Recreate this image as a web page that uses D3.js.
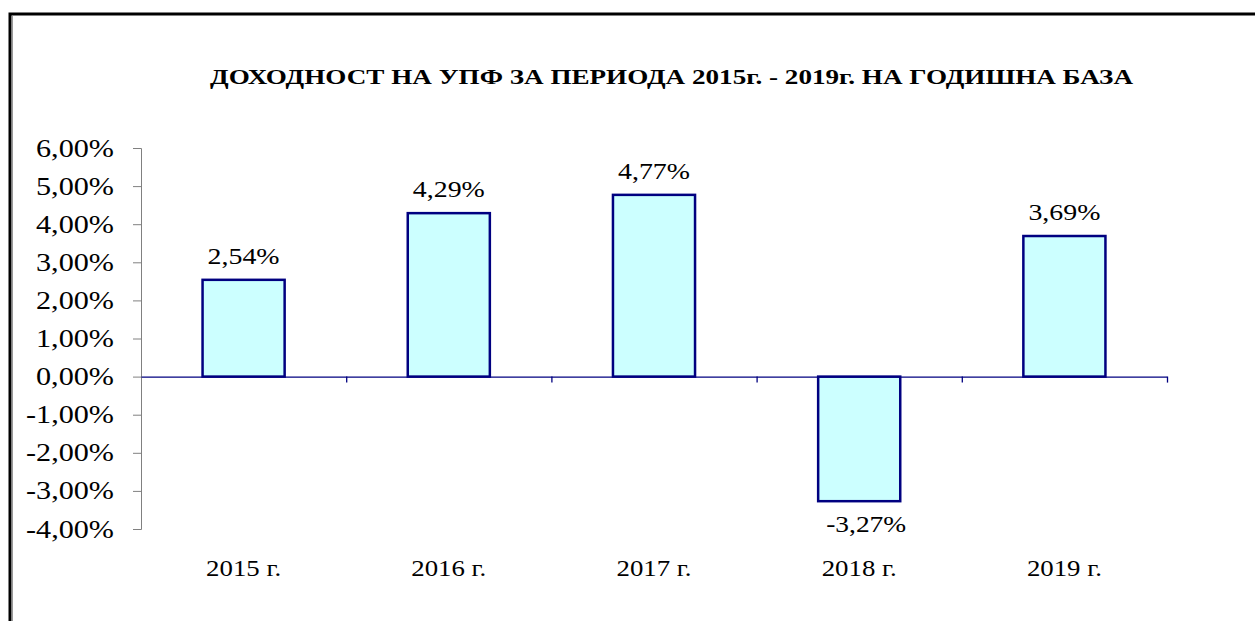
<!DOCTYPE html>
<html>
<head>
<meta charset="utf-8">
<script src="https://cdn.jsdelivr.net/npm/d3@7"></script>
<style>
  html, body { margin: 0; padding: 0; background: #fff; }
  svg text { font-family: "Liberation Serif", "Times New Roman", serif; fill: #000; }
</style>
</head>
<body>
<div id="chart"></div>
<script>
// data
var years = ["2015 г.", "2016 г.", "2017 г.", "2018 г.", "2019 г."];
var returns = [2.54, 4.29, 4.77, -3.27, 3.69];
var yTicks = [6, 5, 4, 3, 2, 1, 0, -1, -2, -3, -4];
var title = "ДОХОДНОСТ НА УПФ ЗА ПЕРИОДА 2015г. - 2019г. НА ГОДИШНА БАЗА";

var width = 1255, height = 621;
var plotLeft = 141, plotRight = 1167, plotTop = 148, plotBottom = 529;
var serif = '"Liberation Serif", "Times New Roman", serif';

var svg = d3.select("#chart").append("svg")
    .attr("width", width)
    .attr("height", height);

// outer frame
svg.append("rect")
    .attr("x", 10).attr("y", 14)
    .attr("width", 1260).attr("height", 640)
    .attr("fill", "none")
    .attr("stroke", "#000")
    .attr("stroke-width", 3);
svg.append("line")
    .attr("x1", 12.5).attr("x2", 12.5).attr("y1", 16).attr("y2", height)
    .attr("stroke", "#999").attr("stroke-width", 1);

svg.append("text")
    .attr("x", 210).attr("y", 84)
    .style("font-family", serif)
    .attr("font-size", 22)
    .attr("font-weight", "bold")
    .attr("textLength", 923)
    .attr("lengthAdjust", "spacingAndGlyphs")
    .text(title);

var x = d3.scaleBand()
    .domain(years)
    .range([plotLeft, plotRight])
    .paddingInner(0.6)
    .paddingOuter(0.3);

var y = d3.scaleLinear()
    .domain([-4, 6])
    .range([plotBottom, plotTop]);

function pct(v) {
    return v.toFixed(2).replace(".", ",") + "%";
}

// y axis
var yAxis = svg.append("g")
    .attr("transform", "translate(" + plotLeft + ",0)")
    .call(d3.axisLeft(y).tickValues(yTicks).tickSize(8).tickPadding(19).tickFormat(pct));
yAxis.select(".domain").attr("stroke", "#808080");
yAxis.selectAll("line").attr("stroke", "#808080");
yAxis.selectAll("text")
    .style("font-family", serif)
    .attr("font-size", 25)
    .attr("textLength", function(d) { return d < 0 ? 88 : 78; })
    .attr("lengthAdjust", "spacingAndGlyphs");

// bars
svg.selectAll(".bar")
    .data(returns)
    .enter().append("rect")
    .attr("class", "bar")
    .attr("x", function(d, i) { return x(years[i]); })
    .attr("width", x.bandwidth())
    .attr("y", function(d) { return y(Math.max(0, d)); })
    .attr("height", function(d) { return Math.abs(y(d) - y(0)); })
    .attr("fill", "#CCFFFF")
    .attr("stroke", "#000080")
    .attr("stroke-width", 2.5);

// zero line with category separators
var sep = d3.scaleLinear().domain([0, years.length]).range([plotLeft, plotRight]);
var zeroAxis = svg.append("g")
    .attr("transform", "translate(0," + y(0) + ")")
    .call(d3.axisBottom(sep).tickValues([1, 2, 3, 4, 5]).tickSize(6).tickSizeOuter(0).tickFormat(""));
zeroAxis.selectAll("path, line").attr("stroke", "#000080").attr("stroke-width", 1.3);

// value labels
svg.selectAll(".val")
    .data(returns)
    .enter().append("text")
    .attr("class", "val")
    .attr("x", function(d, i) { return x(years[i]) + x.bandwidth() / 2 + (d < 0 ? 7 : 0); })
    .attr("y", function(d) { return d >= 0 ? y(d) - 16 : y(d) + 31; })
    .attr("text-anchor", "middle")
    .style("font-family", serif)
    .attr("font-size", 24)
    .attr("textLength", function(d) { return d < 0 ? 80 : 72; })
    .attr("lengthAdjust", "spacingAndGlyphs")
    .text(pct);

// category labels
svg.selectAll(".cat")
    .data(years)
    .enter().append("text")
    .attr("class", "cat")
    .attr("x", function(d) { return x(d) + x.bandwidth() / 2; })
    .attr("y", 576)
    .attr("text-anchor", "middle")
    .style("font-family", serif)
    .attr("font-size", 24)
    .attr("textLength", 75)
    .attr("lengthAdjust", "spacingAndGlyphs")
    .text(function(d) { return d; });
</script>
</body>
</html>
